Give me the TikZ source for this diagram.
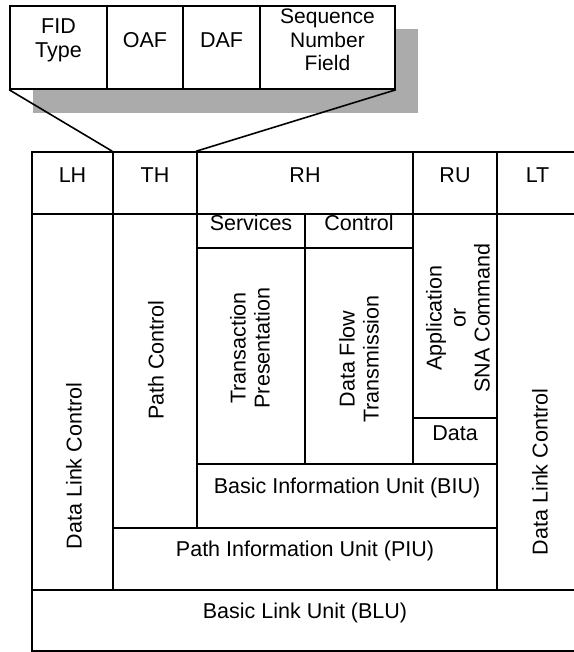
\documentclass[tikz,border=0pt]{standalone}
\usepackage{fontspec}
\setmainfont{Liberation Sans}
\usetikzlibrary{fit}
\begin{document}
\begin{tikzpicture}[x=1pt,y=-1pt,
  cell/.style={draw, line width=1.6pt, inner sep=0pt, fill=white,
    font=\fontsize{21.5}{24}\selectfont, align=center},
  lbl/.style={font=\fontsize{21.5}{24}\selectfont, align=center, inner sep=0pt},
  vlbl/.style={lbl, rotate=90},
  shade/.style={fill=black!33, inner sep=0pt},
  link/.style={line width=1.6pt}]
\useasboundingbox (0,0) rectangle (573,652);
% shadow of the header field box
\node[shade, fit={(33,29) (418,113)}] (shadow) {};
% header fields
\node[cell, fit={(10,6) (107,89)}] (fid) {FID\\Type};
\node[cell, fit={(107,6) (183,89)}] (oaf) {OAF};
\node[cell, fit={(183,6) (260,89)}] (daf) {DAF};
\node[cell, fit={(260,6) (395,89)}, font=\fontsize{21}{23.5}\selectfont] (snf) {Sequence\\Number\\Field};
% table header row
\node[cell, fit={(32,152) (113,214)}] (lh) {LH};
\node[cell, fit={(113,152) (197,214)}] (th) {TH};
\node[cell, fit={(197,152) (413,214)}] (rh) {RH};
\node[cell, fit={(413,152) (497,214)}] (ru) {RU};
\node[cell, fit={(497,152) (578,214)}] (lt) {LT};
% body
\node[cell, fit={(32,214) (113,590)}] (dlcl) {};
\node[vlbl] (dlcltxt) at (74,466) {Data Link Control};
\node[cell, fit={(113,214) (197,528)}] (pc) {};
\node[vlbl] (pctxt) at (156,360) {Path Control};
\node[cell, fit={(197,214) (305,248)}] (serv) {Services};
\node[cell, fit={(305,214) (413,248)}] (ctrl) {Control};
\node[cell, fit={(197,248) (305,464)}] (tp) {};
\node[vlbl] (tptxt) at (250,348) {Transaction\\Presentation};
\node[cell, fit={(305,248) (413,464)}] (dft) {};
\node[vlbl] (dfttxt) at (359,359) {Data Flow\\Transmission};
\node[cell, fit={(413,214) (497,418)}] (app) {};
\node[vlbl] (apptxt) at (458,318) {Application\\or\\SNA Command};
\node[cell, fit={(413,418) (497,464)}] (data) {Data};
\node[cell, fit={(197,464) (497,528)}] (biu) {Basic Information Unit (BIU)};
\node[cell, fit={(113,528) (497,590)}] (piu) {Path Information Unit (PIU)};
\node[cell, fit={(497,214) (578,590)}] (dlcr) {};
\node[vlbl] (dlcrtxt) at (540,472) {Data Link Control};
\node[cell, fit={(32,590) (578,651)}] (blu) {Basic Link Unit (BLU)};
% expansion lines
\draw[link] (fid.south west) -- (th.north west);
\draw[link] (snf.south east) -- (rh.north west);
\end{tikzpicture}
\end{document}
